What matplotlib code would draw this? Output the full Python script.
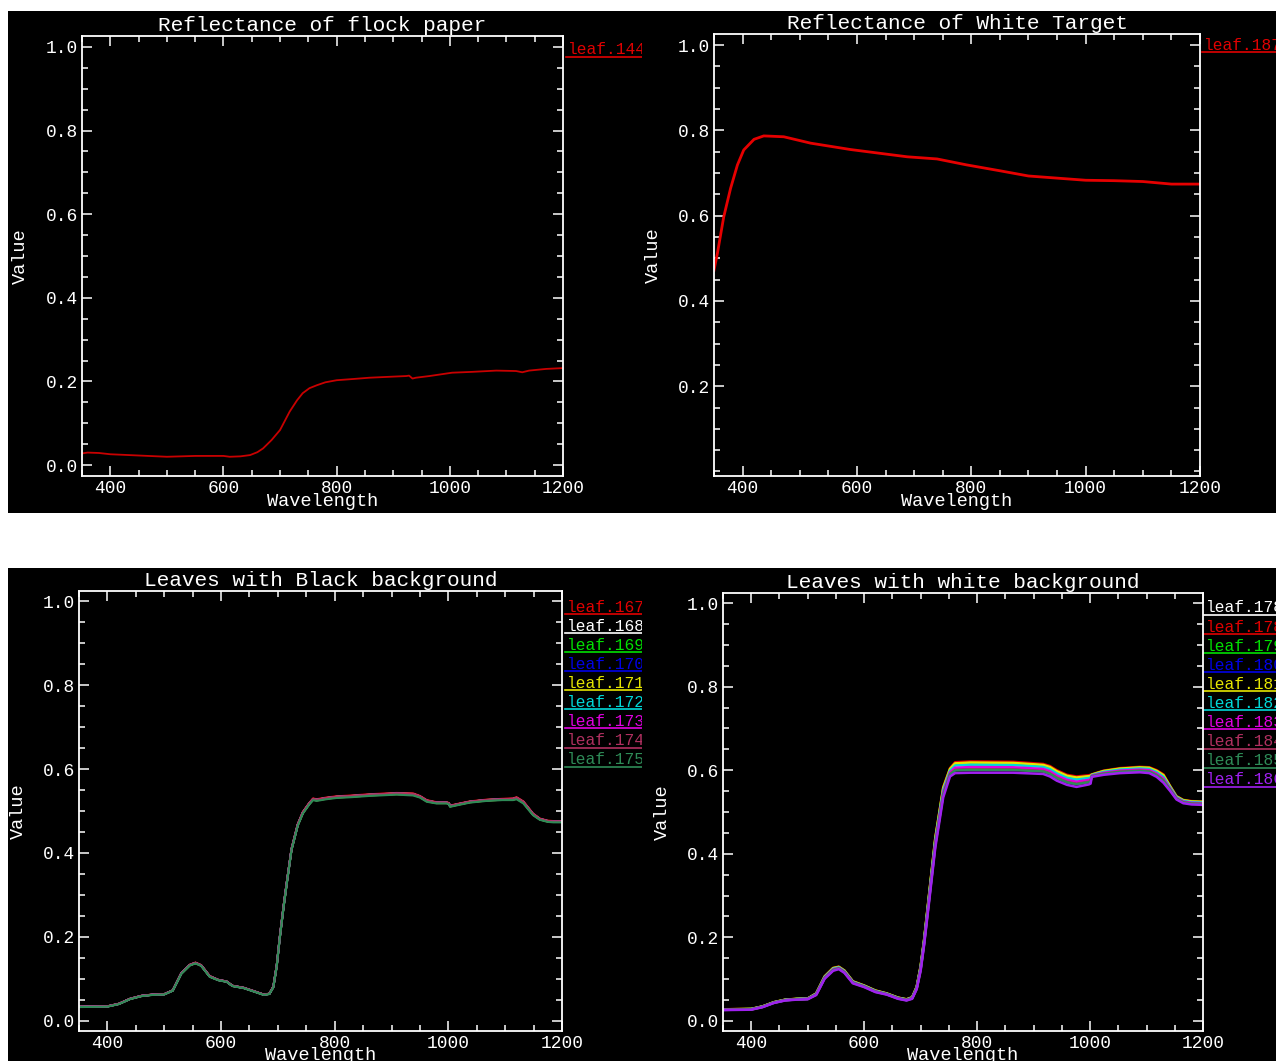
import numpy as np
import matplotlib.pyplot as plt
from matplotlib.lines import Line2D
from matplotlib.ticker import MultipleLocator, FixedLocator

plt.rcParams['font.family'] = ['Liberation Mono', 'DejaVu Sans Mono']

# ---- data ----
wl_flock = [350, 360, 380, 400, 450, 500, 550, 600, 611, 630,
            647, 660, 670, 685, 700, 717, 730, 740, 752, 765,
            780, 800, 830, 858, 890, 923, 928, 934, 940, 964,
            1004, 1040, 1082, 1117, 1128, 1140, 1170, 1200]
refl_flock = [0.028, 0.030, 0.029, 0.026, 0.023, 0.020, 0.022, 0.022, 0.020, 0.021,
              0.024, 0.031, 0.040, 0.060, 0.084, 0.128, 0.155, 0.172, 0.184, 0.191,
              0.198, 0.203, 0.206, 0.209, 0.211, 0.213, 0.214, 0.207, 0.209, 0.213,
              0.221, 0.223, 0.226, 0.225, 0.222, 0.226, 0.230, 0.232]

wl_white = [350, 356, 367, 379, 391, 402, 420, 437, 472, 519, 589, 653,
            688, 740, 792, 851, 900, 950, 1000, 1050, 1100, 1150, 1200]
refl_white = [0.472, 0.512, 0.597, 0.664, 0.719, 0.754, 0.779, 0.787, 0.785, 0.770, 0.755, 0.744,
              0.738, 0.733, 0.719, 0.705, 0.693, 0.688, 0.683, 0.682, 0.680, 0.674, 0.674]

# leaves on black background: upper / lower envelope of the bundle
wl_black_bg = [350, 400, 420, 440, 460, 480, 500, 515, 530, 545,
               555, 565, 580, 595, 610, 620, 640, 660, 675, 685,
               692, 698, 703, 710, 716, 724, 735, 744, 755, 762,
               768, 785, 803, 830, 862, 909, 938, 950, 962, 979,
               997, 1001, 1003, 1020, 1038, 1067, 1095, 1114, 1120, 1132,
               1149, 1161, 1175, 1185, 1200]
black_bg_lower = [0.033, 0.034, 0.040, 0.052, 0.059, 0.062, 0.063, 0.072, 0.112, 0.132,
                  0.137, 0.131, 0.105, 0.097, 0.093, 0.083, 0.078, 0.069, 0.062, 0.064,
                  0.080, 0.130, 0.193, 0.270, 0.330, 0.407, 0.465, 0.494, 0.515, 0.526,
                  0.524, 0.528, 0.531, 0.533, 0.536, 0.539, 0.537, 0.532, 0.522, 0.518,
                  0.518, 0.516, 0.510, 0.515, 0.520, 0.524, 0.526, 0.526, 0.528, 0.518,
                  0.490, 0.479, 0.474, 0.473, 0.473]
black_bg_upper = [0.034, 0.035, 0.041, 0.053, 0.060, 0.063, 0.064, 0.073, 0.114, 0.134,
                  0.139, 0.133, 0.107, 0.098, 0.094, 0.084, 0.079, 0.070, 0.063, 0.065,
                  0.082, 0.133, 0.196, 0.274, 0.334, 0.410, 0.469, 0.498, 0.519, 0.530,
                  0.528, 0.532, 0.535, 0.537, 0.540, 0.543, 0.542, 0.536, 0.526, 0.521,
                  0.521, 0.519, 0.513, 0.518, 0.523, 0.527, 0.529, 0.530, 0.533, 0.523,
                  0.494, 0.482, 0.477, 0.476, 0.476]
black_leaf_names = ['leaf.167', 'leaf.168', 'leaf.169', 'leaf.170', 'leaf.171',
                    'leaf.172', 'leaf.173', 'leaf.174', 'leaf.175']
black_leaf_mix = [1.0, 0.7, 0.6, 0.5, 0.3, 0.5, 0.6, 0.8, 0.0]

# leaves on white background
wl_white_bg = [350, 400, 420, 440, 460, 480, 500, 515, 530, 545,
               555, 565, 580, 600, 620, 640, 660, 675, 685, 693,
               700, 706, 715, 726, 740, 752, 761, 788, 864, 917,
               929, 941, 959, 976, 998, 1001, 1003, 1024, 1053, 1088,
               1105, 1118, 1130, 1142, 1153, 1165, 1180, 1200]
white_bg_upper = [0.028, 0.029, 0.035, 0.045, 0.051, 0.053, 0.054, 0.066, 0.107, 0.127,
                  0.130, 0.121, 0.095, 0.085, 0.073, 0.066, 0.056, 0.052, 0.057, 0.082,
                  0.132, 0.194, 0.305, 0.440, 0.560, 0.605, 0.619, 0.621, 0.620, 0.615,
                  0.610, 0.600, 0.589, 0.585, 0.588, 0.589, 0.590, 0.599, 0.605, 0.608,
                  0.607, 0.600, 0.590, 0.562, 0.538, 0.529, 0.526, 0.525]
white_bg_lower = [0.026, 0.027, 0.033, 0.043, 0.049, 0.051, 0.052, 0.062, 0.101, 0.120,
                  0.124, 0.115, 0.090, 0.081, 0.069, 0.063, 0.053, 0.049, 0.053, 0.076,
                  0.120, 0.180, 0.285, 0.415, 0.535, 0.585, 0.593, 0.594, 0.594, 0.591,
                  0.585, 0.575, 0.565, 0.560, 0.566, 0.568, 0.584, 0.589, 0.593, 0.595,
                  0.593, 0.584, 0.570, 0.550, 0.530, 0.521, 0.518, 0.517]
white_leaf_names = ['leaf.178', 'leaf.178', 'leaf.179', 'leaf.180', 'leaf.181',
                    'leaf.182', 'leaf.183', 'leaf.184', 'leaf.185', 'leaf.186']
white_leaf_mix = [0.65, 1.0, 0.85, 0.35, 0.9, 0.7, 0.5, 0.3, 0.25, 0.0]

leaf_colors = ['#e00000', '#ffffff', '#00e000', '#0000e6', '#e6e600',
               '#00d8d8', '#e000e0', '#b03060', '#2e8b57', '#a020f0']
white_leaf_colors = ['#ffffff', '#e00000', '#00e000', '#0000e6', '#e6e600',
                     '#00d8d8', '#e000e0', '#b03060', '#2e8b57', '#a020f0']

W, H = 1276, 1061


def px_rect(x0, y0, x1, y1):
    return [x0 / W, 1 - y1 / H, (x1 - x0) / W, (y1 - y0) / H]


def make_panel(fig, panel_px, axes_px, title, ylim, yticks, ylabel_x, xlabel_y):
    bg = fig.add_axes(px_rect(*panel_px), zorder=0)
    bg.set_facecolor('black')
    bg.set_xticks([])
    bg.set_yticks([])
    for s in bg.spines.values():
        s.set_visible(False)

    ax = fig.add_axes(px_rect(*axes_px), zorder=1)
    ax.set_facecolor('black')
    ax.set_xlim(350, 1200)
    ax.set_ylim(*ylim)
    ax.xaxis.set_major_locator(MultipleLocator(200))
    ax.xaxis.set_minor_locator(MultipleLocator(50))
    ax.yaxis.set_major_locator(FixedLocator(yticks))
    ax.yaxis.set_minor_locator(MultipleLocator(0.05))
    ax.yaxis.set_major_formatter(lambda v, p: f'{v:.1f}')
    for s in ax.spines.values():
        s.set_color('white')
        s.set_linewidth(1.3)
    ax.tick_params(which='both', direction='in', top=True, right=True,
                   colors='white', labelsize=12.9, width=1.1)
    ax.tick_params(which='major', length=7, pad=3)
    ax.tick_params(which='minor', length=4.2)
    ax.set_title(title, color='white', fontsize=15.2, pad=3.5)

    x0, y0, x1, y1 = axes_px
    ax.set_xlabel('Wavelength', color='white', fontsize=13.4, va='center')
    ax.xaxis.set_label_coords(0.5, (y1 - xlabel_y) / (y1 - y0))
    ax.set_ylabel('Value', color='white', fontsize=13.4, va='center')
    ax.yaxis.set_label_coords((ylabel_x - x0) / (x1 - x0), 0.5)
    return fig, bg, ax


def add_legend(bg, names, colors, x_px, y0_px, dy_px):
    for i, (name, c) in enumerate(zip(names, colors)):
        y = y0_px + i * dy_px
        bg.text(x_px / W, 1 - y / H, name, transform=bg.figure.transFigure,
                color=c, fontsize=11.7, ha='left', va='center', clip_on=True)
        ul = Line2D([(x_px - 2) / W, (x_px + 79) / W], [1 - (y + 7) / H] * 2,
                    transform=bg.figure.transFigure, color=c, lw=1.2)
        bg.add_artist(ul)


def main():
    fig = plt.figure(figsize=(W / 100, H / 100), dpi=100)
    fig.patch.set_facecolor('white')

    # top left: flock paper
    _, bg, ax = make_panel(fig, (7.5, 11, 642, 513), (82, 36, 563, 476),
                           'Reflectance of flock paper', (-0.026, 1.026),
                           [0, 0.2, 0.4, 0.6, 0.8, 1.0], 20, 502)
    ax.plot(wl_flock, refl_flock, color='#c80000', lw=1.3)
    add_legend(bg, ['leaf.144'], ['#e00000'], 568, 50, 19.1)

    # top right: white target
    _, bg, ax = make_panel(fig, (642, 11, 1276, 513), (714, 34, 1200, 476),
                           'Reflectance of White Target', (-0.0106, 1.026),
                           [0.2, 0.4, 0.6, 0.8, 1.0], 653, 502)
    ax.plot(wl_white, refl_white, color='#e60000', lw=2.0)
    add_legend(bg, ['leaf.187'], ['#e00000'], 1204, 45, 19.1)

    # bottom left: leaves, black background
    _, bg, ax = make_panel(fig, (7.5, 568, 642, 1061), (79, 591, 562, 1031),
                           'Leaves with Black background', (-0.024, 1.024),
                           [0, 0.2, 0.4, 0.6, 0.8, 1.0], 18, 1056)
    lo, up = np.array(black_bg_lower), np.array(black_bg_upper)
    for w, c in zip(black_leaf_mix, leaf_colors):
        ax.plot(wl_black_bg, lo + w * (up - lo), color=c, lw=1.5)
    add_legend(bg, black_leaf_names, leaf_colors, 567, 607, 19.08)

    # bottom right: leaves, white background
    _, bg, ax = make_panel(fig, (642, 568, 1276, 1061), (723, 593, 1203, 1031),
                           'Leaves with white background', (-0.024, 1.024),
                           [0, 0.2, 0.4, 0.6, 0.8, 1.0], 662, 1056)
    lo, up = np.array(white_bg_lower), np.array(white_bg_upper)
    for w, c in zip(white_leaf_mix, white_leaf_colors):
        ax.plot(wl_white_bg, lo + w * (up - lo), color=c, lw=1.8)
    add_legend(bg, white_leaf_names, white_leaf_colors, 1206, 608, 19.08)

    fig.savefig('out.png', dpi=100, facecolor='white')
    plt.close(fig)


if __name__ == "__main__":
    main()
